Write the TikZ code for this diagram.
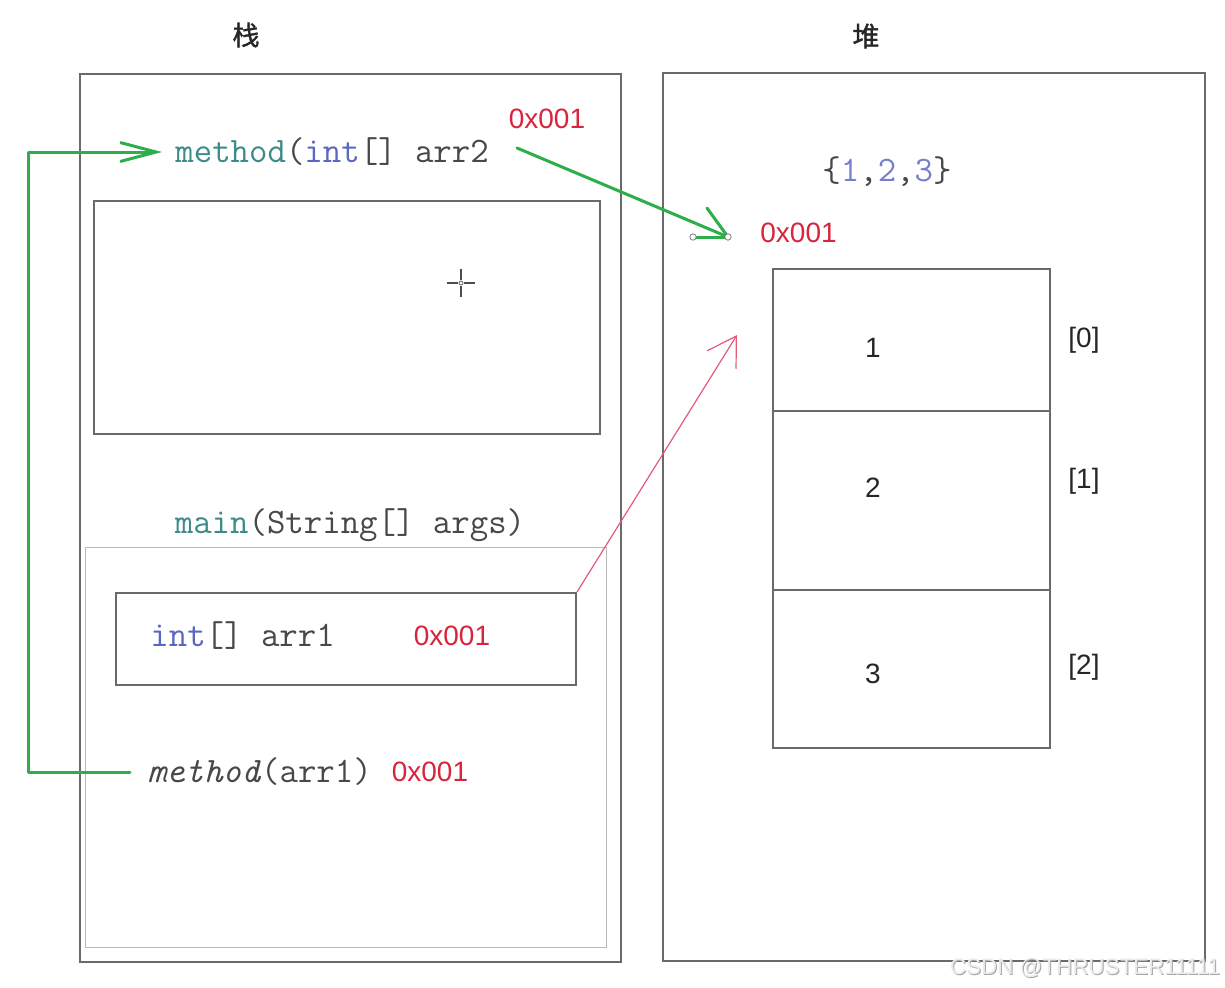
\documentclass[tikz,border=0pt]{standalone}
\usepackage{fontspec}
\setmainfont{Liberation Sans}
\setsansfont{Liberation Sans}
\newfontfamily\cjk[FakeBold=1.2]{Noto Sans CJK SC}
\usetikzlibrary{arrows.meta}

\definecolor{frame}{HTML}{6A6A6A}
\definecolor{lightframe}{HTML}{B8B8B8}
\definecolor{codegray}{HTML}{484848}
\definecolor{codeteal}{HTML}{3E8A8A}
\definecolor{codeblue}{HTML}{5A66C4}
\definecolor{numblue}{HTML}{7480CC}
\definecolor{addr}{HTML}{D8243C}
\definecolor{linkgreen}{HTML}{2DAE4A}
\definecolor{refred}{HTML}{E45A78}

\begin{document}
\begin{tikzpicture}[x=0.5pt,y=-0.5pt,
  box/.style={draw=frame,line width=1pt,inner sep=0pt,anchor=north west},
  thinbox/.style={draw=lightframe,line width=0.6pt,inner sep=0pt,anchor=north west},
  code/.style={font=\ttfamily\fontsize{17.9}{20}\selectfont,text=codegray,inner sep=0pt},
  address/.style={font=\sffamily\fontsize{14}{17}\selectfont,text=addr,inner sep=0pt},
  cellnum/.style={font=\sffamily\fontsize{14}{17}\selectfont,text=black!85,inner sep=0pt},
  title/.style={font=\cjk\fontsize{13.5}{16}\selectfont,text=black!85,inner sep=0pt},
  greenlink/.style={draw=linkgreen,line width=1.5pt,line cap=round,line join=round},
  reflink/.style={draw=refred,line width=0.6pt},
  handle/.style={draw=gray,fill=white,line width=0.4pt},
  watermark/.style={font=\sffamily\fontsize{11.2}{13}\selectfont,inner sep=0pt}
]
\useasboundingbox[fill=white] (0,0) rectangle (1225,987);

% headings
\node[title] (stacktitle) at (246,35) {栈};
\node[title] (heaptitle) at (866,36) {堆};

% stack area with its frames
\node[box,minimum width=541*0.5pt,minimum height=888*0.5pt] (stack) at (79,73) {};
\node[box,minimum width=506*0.5pt,minimum height=233*0.5pt] (frame2) at (93,200) {};
\node[thinbox,minimum width=521*0.5pt,minimum height=400*0.5pt] (mainframe) at (85,547) {};
\node[box,minimum width=460*0.5pt,minimum height=92*0.5pt] (arr1box) at (115,592) {};

% heap area
\node[box,minimum width=542*0.5pt,minimum height=888*0.5pt] (heap) at (662,72) {};
\node[box,minimum width=277*0.5pt,minimum height=142*0.5pt] (cell0) at (772,268) {};
\node[box,minimum width=277*0.5pt,minimum height=179*0.5pt] (cell1) at (772,410) {};
\node[box,minimum width=277*0.5pt,minimum height=158*0.5pt] (cell2) at (772,589) {};

% stack texts
\node[code,anchor=west] (msig) at (175,152)
  {\textcolor{codeteal}{method}(\textcolor{codeblue}{int}[] arr2};
\node[address] (addrsig) at (547,119) {0x001};
\node[code] (mainsig) at (350,525)
  {\textcolor{codeteal}{main}(String[] args)};
\node[code,anchor=west] (arr1) at (150,636)
  {\textcolor{codeblue}{int}[] arr1};
\node[address] (addrarr1) at (452,636) {0x001};
\node[code,anchor=west] (callm) at (147,772)
  {\textit{method}(arr1)};
\node[address] (addrcall) at (430,772) {0x001};

% heap texts
\node[code] (init) at (887,172)
  {\{\textcolor{numblue}{1},\textcolor{numblue}{2},\textcolor{numblue}{3}\}};
\node[address,anchor=west] (addrheap) at (760,233) {0x001};
\node[cellnum] (v0) at (873,348) {1};
\node[cellnum] (v1) at (873,488) {2};
\node[cellnum] (v2) at (873,674) {3};
\node[cellnum] (i0) at (1084,340) {[0]};
\node[cellnum] (i1) at (1084,481) {[1]};
\node[cellnum] (i2) at (1084,667) {[2]};

% call: method(arr1) jumps up to the method frame
\coordinate (bend) at (28,0);
\coordinate (callstart) at ([xshift=-8.5pt]callm.west);
\coordinate (callend) at ([xshift=-6.5pt]msig.west);
\draw[greenlink,-{Straight Barb[length=18pt,width=9.5pt]}]
  (callstart) -- (callstart -| bend) |- (callend);

% arr2 points into the heap
\coordinate (g2s) at (517,148);
\coordinate (g2t) at (728,237);
\coordinate (g2h) at (693,237);
\draw[greenlink] (g2s) -- (g2t);
\draw[greenlink] (g2t) -- ++(-21,-29);
\draw[greenlink] (g2t) -- (g2h);
\draw[handle] (g2t) circle (1.6pt);
\draw[handle] (g2h) circle (1.6pt);

% arr1 reference into the heap
\coordinate (rtip) at (737,335);
\draw[reflink,-{Straight Barb[length=14pt,width=17pt]}] (arr1box.north east) -- (rtip);

% cursor mark
\coordinate (cur) at (461,283);
\draw[black!70,line width=1.2pt] ([xshift=-7pt]cur) -- ([xshift=-1.5pt]cur)
  ([xshift=1.5pt]cur) -- ([xshift=7pt]cur)
  ([yshift=-7pt]cur) -- ([yshift=-1.5pt]cur)
  ([yshift=1.5pt]cur) -- ([yshift=7pt]cur);
\draw[black!60,line width=0.4pt] (cur) circle (1pt);

% watermark
\node[watermark,text=gray!70] (wm0) at (1086,969) {CSDN @THRUSTER11111};
\node[watermark,text=gray!15] (wm) at (1085,968) {CSDN @THRUSTER11111};
\end{tikzpicture}
\end{document}
